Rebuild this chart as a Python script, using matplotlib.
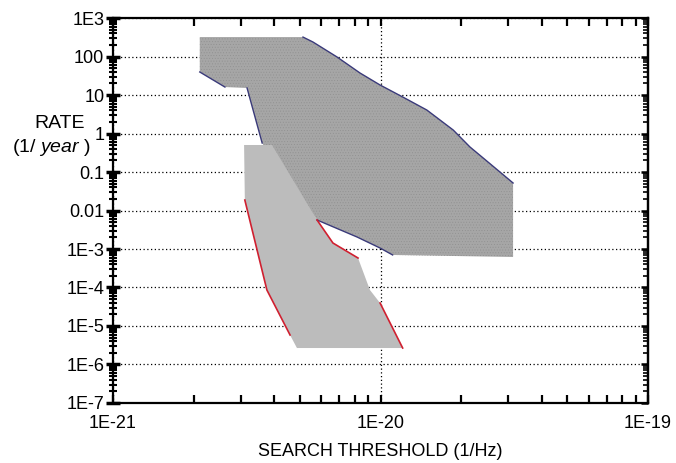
import numpy as np
import matplotlib
matplotlib.use("Agg")
import matplotlib.pyplot as plt
from matplotlib.ticker import FixedLocator, FixedFormatter, LogLocator, NullFormatter

plt.rcParams['font.family'] = ['Liberation Sans', 'DejaVu Sans']
plt.rcParams['mathtext.fontset'] = 'custom'
plt.rcParams['mathtext.rm'] = 'Liberation Sans'
plt.rcParams['mathtext.it'] = 'Liberation Sans:italic'
plt.rcParams['hatch.linewidth'] = 0.3

# upper (dark, stippled) region: search threshold (1/Hz), rate (1/yr)
dark_x = [2.11e-21, 5.13e-21, 5.59e-21, 6.88e-21, 8.38e-21, 9.96e-21, 1.21e-20, 1.49e-20,
          1.87e-20, 2.16e-20, 2.42e-20, 3.13e-20, 3.13e-20, 1.11e-20, 9.96e-21, 8.17e-21,
          5.79e-21, 3.61e-21, 3.17e-21, 2.62e-21, 2.11e-21]
dark_y = [320, 320, 238, 97, 37.3, 18.2, 8.9, 4.07,
          1.23, 0.446, 0.231, 0.0518, 6.2e-4, 7.0e-4, 1.06e-3, 2.05e-3,
          5.67e-3, 0.566, 15.2, 16.1, 39.6]

# lower (light) region
light_x = [3.09e-21, 3.93e-21, 5.79e-21, 6.64e-21, 8.24e-21, 9.13e-21, 9.96e-21,
           1.21e-20, 4.87e-21, 4.59e-21, 3.76e-21, 3.11e-21]
light_y = [0.503, 0.503, 5.67e-3, 1.43e-3, 5.83e-4, 8.6e-5, 3.96e-5,
           2.68e-6, 2.68e-6, 5.83e-6, 8.6e-5, 0.0187]

# outlined edges (indices into the vertex lists)
dark_edges = [(20, 19), (18, 17), (1, 2, 3, 4, 5, 6, 7, 8, 9, 10, 11), (13, 14, 15, 16)]
light_edges = [(11, 10, 9), (2, 3, 4), (6, 7)]

y_ticks = [1e3, 1e2, 1e1, 1, 0.1, 0.01, 1e-3, 1e-4, 1e-5, 1e-6, 1e-7]
y_labels = ['1E3', '100', '10', '1', '0.1', '0.01', '1E-3', '1E-4', '1E-5', '1E-6', '1E-7']
x_ticks = [1e-21, 1e-20, 1e-19]
x_labels = ['1E-21', '1E-20', '1E-19']

fig = plt.figure(figsize=(6.76, 4.63), dpi=100)
ax = fig.add_axes([0.1672, 0.1296, 0.7914, 0.8315])
ax.set_xscale('log')
ax.set_yscale('log')
ax.set_xlim(1e-21, 1e-19)
ax.set_ylim(1e-7, 1e3)

ax.fill(dark_x, dark_y, facecolor='#a6a6a6', edgecolor='#8e8e8e', lw=0, hatch='......', zorder=2)
ax.fill(light_x, light_y, facecolor='#bcbcbc', edgecolor='none', lw=0, zorder=3)

for seg in dark_edges:
    ax.plot([dark_x[i] for i in seg], [dark_y[i] for i in seg], color='#3a3a7a', lw=1.0, zorder=4)
for seg in light_edges:
    ax.plot([light_x[i] for i in seg], [light_y[i] for i in seg], color='#d02030', lw=1.2, zorder=4)

ax.set_axisbelow(True)
ax.grid(True, which='major', linestyle=(0, (1, 2)), color='black', lw=0.9)

ax.yaxis.set_major_locator(FixedLocator(y_ticks))
ax.yaxis.set_major_formatter(FixedFormatter(y_labels))
ax.xaxis.set_major_locator(FixedLocator(x_ticks))
ax.xaxis.set_major_formatter(FixedFormatter(x_labels))
ax.yaxis.set_minor_locator(LogLocator(base=10, subs=np.arange(2, 10), numticks=20))
ax.xaxis.set_minor_locator(LogLocator(base=10, subs=np.arange(2, 10), numticks=20))
ax.yaxis.set_minor_formatter(NullFormatter())
ax.xaxis.set_minor_formatter(NullFormatter())

for s in ax.spines.values():
    s.set_linewidth(1.6)

ax.tick_params(axis='y', which='major', left=True, right=False, direction='inout',
               length=9.5, width=2.5, labelsize=13, pad=1.5)
ax.tick_params(axis='y', which='minor', left=True, right=False, direction='inout',
               length=6, width=1.5)
ax.tick_params(axis='x', which='major', bottom=True, top=True, direction='in',
               length=6, width=1.6, labelsize=13, pad=9)
ax.tick_params(axis='x', which='minor', bottom=True, top=True, direction='in',
               length=6, width=1.6)

# small inward ticks on the right spine
ay = ax.secondary_yaxis('right')
ay.set_yscale('log')
ay.yaxis.set_major_locator(FixedLocator(y_ticks))
ay.yaxis.set_minor_locator(LogLocator(base=10, subs=np.arange(2, 10), numticks=20))
ay.yaxis.set_major_formatter(NullFormatter())
ay.yaxis.set_minor_formatter(NullFormatter())
ay.tick_params(which='major', direction='in', length=5, width=1.8)
ay.tick_params(which='minor', direction='in', length=3.5, width=1.2)
ay.spines['right'].set_linewidth(1.6)

fig.text(0.088, 0.734, 'RATE', fontsize=14, ha='center', va='center')
fig.text(0.076, 0.681, r'($\mathit{1/\ year}$ )', fontsize=14, ha='center', va='center')
fig.text(0.5629, 0.025, 'SEARCH THRESHOLD (1/Hz)', fontsize=13, ha='center', va='center')

fig.savefig('out.png', dpi=100)
